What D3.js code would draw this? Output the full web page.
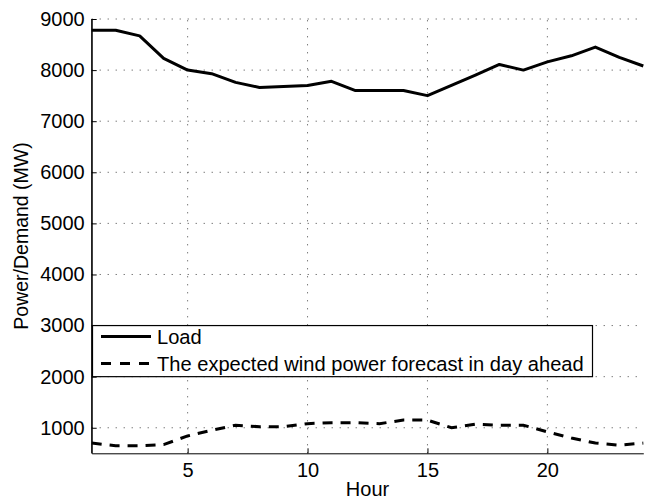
<!DOCTYPE html>
<html><head><meta charset="utf-8">
<script src="https://cdn.jsdelivr.net/npm/d3@7"></script>
<style>body{margin:0;background:#fff;} text{font-family:"Liberation Sans",Arial,sans-serif;}</style>
</head><body>
<svg id="c" width="648" height="500"></svg>
<script>
const hours = d3.range(1, 25);
const load = [8780,8780,8670,8230,8000,7930,7760,7660,7680,7700,7780,7600,7600,7600,7500,7700,7900,8110,8000,8160,8280,8450,8250,8080];
const wind = [700,650,650,670,840,950,1050,1020,1020,1080,1100,1100,1080,1150,1150,1000,1070,1050,1050,920,800,700,660,700];
const xTicks = [5,10,15,20];
const yTicks = [1000,2000,3000,4000,5000,6000,7000,8000,9000];
const legendLabels = ["Load","The expected wind power forecast in day ahead"];

const svg = d3.select("#c");
const L=91.7, R=643.3, T=19, B=453.3;
const x = d3.scaleLinear().domain([1,24]).range([L,R]);
const y = d3.scaleLinear().domain([500,9000]).range([B,T]);
const fs = 20;

// grid
const g = svg.append("g");
g.selectAll(".gx").data(xTicks).join("line")
  .attr("x1",d=>x(d)).attr("x2",d=>x(d)).attr("y1",B).attr("y2",T)
  .attr("stroke","#444").attr("stroke-width",1).attr("stroke-dasharray","1,7");
g.selectAll(".gy").data(yTicks).join("line")
  .attr("x1",L).attr("x2",R).attr("y1",d=>y(d)).attr("y2",d=>y(d))
  .attr("stroke","#444").attr("stroke-width",1).attr("stroke-dasharray","1,7");

// axes
const xa = svg.append("g").attr("transform",`translate(0,${B})`)
  .call(d3.axisBottom(x).tickValues(xTicks).tickFormat(d3.format("d")).tickSize(-5).tickPadding(10).tickSizeOuter(0));
const ya = svg.append("g").attr("transform",`translate(${L},0)`)
  .call(d3.axisLeft(y).tickValues(yTicks).tickFormat(d3.format("d")).tickSize(-5).tickPadding(7).tickSizeOuter(0));
[xa,ya].forEach(a=>{
  a.select(".domain").attr("stroke","#000");
  a.selectAll(".tick line").attr("stroke","#000");
  a.selectAll("text").attr("font-size",fs).attr("fill","#000").attr("font-family","Liberation Sans, Arial, sans-serif");
});
svg.append("line").attr("x1",L).attr("x2",L).attr("y1",T).attr("y2",B).attr("stroke","#000");

// lines
const line = d3.line().x((d,i)=>x(hours[i])).y(d=>y(d));
svg.append("path").datum(load).attr("d",line).attr("fill","none")
  .attr("stroke","#000").attr("stroke-width",3).attr("stroke-linejoin","round");
svg.append("path").datum(wind).attr("d",line).attr("fill","none")
  .attr("stroke","#000").attr("stroke-width",3).attr("stroke-dasharray","10,8");

// labels
svg.append("text").attr("x",(L+R)/2).attr("y",496).attr("text-anchor","middle")
  .attr("font-size",fs).text("Hour");
svg.append("text").attr("transform",`translate(28,236) rotate(-90)`)
  .attr("text-anchor","middle").attr("font-size",19.5).text("Power/Demand (MW)");

// legend
const lg = svg.append("g");
lg.append("rect").attr("x",92.5).attr("y",y(3000)).attr("width",592.5-92.5).attr("height",y(2000)-y(3000))
  .attr("fill","#fff").attr("stroke","#000").attr("stroke-width",1.2);
const ly = [336.5, 363.5];
const styles = [null, "10,9"];
legendLabels.forEach((t,i)=>{
  lg.append("line").attr("x1",101).attr("x2",151).attr("y1",ly[i]).attr("y2",ly[i])
    .attr("stroke","#000").attr("stroke-width",3).attr("stroke-dasharray",styles[i]);
  lg.append("text").attr("x",157).attr("y",ly[i]+7).attr("font-size",20.1).text(t);
});
</script>
</body></html>
